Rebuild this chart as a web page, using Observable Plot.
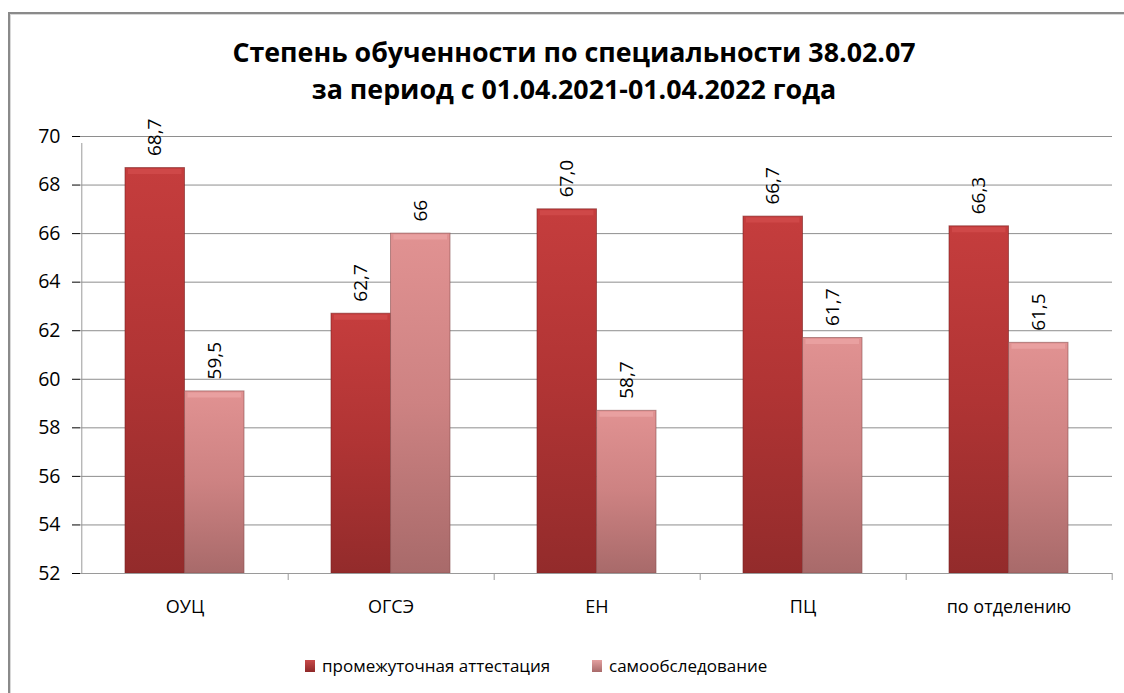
<!DOCTYPE html>
<html><head><meta charset="utf-8">
<script src="https://cdn.jsdelivr.net/npm/d3@7"></script>
<script src="https://cdn.jsdelivr.net/npm/@observablehq/plot@0.6"></script>
<style>
body{margin:0;background:#fff;font-family:"Open Sans",sans-serif;}
#wrap{position:relative;width:1124px;height:693px;overflow:hidden;background:#fff;}
#frame{position:absolute;left:8px;top:12px;width:1300px;height:900px;border:2px solid #8a8a8a;box-shadow:inset 1px 1px 0 #d8d8d8;}
#title{position:absolute;top:33px;left:0;width:1148px;text-align:center;font-weight:bold;font-size:26.8px;line-height:37px;color:#000;}
#chart{position:absolute;left:0;top:100px;}
.leg{position:absolute;top:654px;font-size:17px;color:#000;display:flex;align-items:center;white-space:nowrap;}
.sw{display:inline-block;width:10px;height:12px;margin-right:7px;}
</style></head>
<body><div id="wrap"><div id="frame"></div><div id="title"></div><div id="chart"></div></div>
<script>
const titleLines = ["Степень обученности по специальности 38.02.07", "за период с 01.04.2021-01.04.2022 года"];
const categories = ["ОУЦ", "ОГСЭ", "ЕН", "ПЦ", "по отделению"];
const seriesNames = ["промежуточная аттестация", "самообследование"];
const attestation = [68.7, 62.7, 67.0, 66.7, 66.3];
const selfExam = [59.5, 66, 58.7, 61.7, 61.5];
const attestationLabels = ["68,7", "62,7", "67,0", "66,7", "66,3"];
const selfExamLabels = ["59,5", "66", "58,7", "61,7", "61,5"];
const yTicks = [52, 54, 56, 58, 60, 62, 64, 66, 68, 70];
const yDomain = [52, 70];

document.getElementById("title").innerHTML = titleLines.join("<br>");

const rowsA = categories.map((c, i) => ({cat: c, value: attestation[i], label: attestationLabels[i]}));
const rowsB = categories.map((c, i) => ({cat: c, value: selfExam[i], label: selfExamLabels[i]}));

const W = 1124, H = 540, mL = 80, mR = 12;
const step = (W - mL - mR) / categories.length;
const pIn = 0.4234;
const half = step * (1 - pIn) / 2;

const plot = Plot.plot({
  width: W, height: H,
  marginLeft: mL, marginRight: mR, marginTop: 36, marginBottom: 67,
  style: {fontFamily: "Open Sans, sans-serif", fontSize: "18px", color: "#000", background: "transparent"},
  x: {domain: categories, paddingInner: pIn, paddingOuter: pIn / 2, align: 0.5, tickSize: 0, tickPadding: 27, label: null},
  y: {domain: yDomain, ticks: yTicks, tickSize: 8, tickPadding: 12, label: null, tickFormat: d => String(d)},
  marks: [
    Plot.ruleY(yTicks, {stroke: "#8e8e8e", strokeWidth: 1}),
    Plot.ruleX([categories[0]], {x: d => d, dx: -step / 2, y1: yDomain[0], y2: yDomain[1], insetBottom: -7, stroke: "#9a9a9a"}),
    Plot.ruleX(categories, {x: d => d, dx: step / 2, y1: yDomain[0], y2: yDomain[0], insetBottom: -7, stroke: "#9a9a9a"}),
    Plot.barY(rowsA, {x: "cat", y1: yDomain[0], y2: "value", insetRight: half, fill: "url(#gradA)", stroke: "#7c2222", strokeOpacity: 0.6}),
    Plot.barY(rowsB, {x: "cat", y1: yDomain[0], y2: "value", insetLeft: half, fill: "url(#gradB)", stroke: "#8a5050", strokeOpacity: 0.6}),
    Plot.tickY(rowsA, {x: "cat", y: "value", insetRight: half + 3, insetLeft: 3, dy: 3.5, strokeWidth: 5, stroke: "#cf4848"}),
    Plot.tickY(rowsB, {x: "cat", y: "value", insetLeft: half + 3, insetRight: 3, dy: 3.5, strokeWidth: 5, stroke: "#e9a0a0"}),
    Plot.ruleY([yDomain[0]], {stroke: "#9a9a9a", strokeWidth: 1}),
    Plot.text(rowsA, {x: "cat", y: "value", text: "label", rotate: -90, textAnchor: "start", dx: -half / 2, dy: -12, fontSize: 19}),
    Plot.text(rowsB, {x: "cat", y: "value", text: "label", rotate: -90, textAnchor: "start", dx: half / 2, dy: -12, fontSize: 19})
  ]
});

const defs = d3.select(plot).insert("defs", ":first-child");
function grad(id, stops) {
  const g = defs.append("linearGradient").attr("id", id).attr("x1", 0).attr("y1", 0).attr("x2", 0).attr("y2", 1);
  stops.forEach(([o, c]) => g.append("stop").attr("offset", o).attr("stop-color", c));
}
grad("gradA", [[0, "#c53d3d"], [0.5, "#b03434"], [1, "#932b2b"]]);
grad("gradB", [[0, "#e19292"], [0.5, "#cd8282"], [1, "#a86a6a"]]);
d3.select(plot).selectAll('g[aria-label^="x-axis"] text').style("font-size", "18px");
d3.select(plot).selectAll('g[aria-label^="y-axis"] text').style("font-size", "19.5px");
document.getElementById("chart").appendChild(plot);

const legColors = ["linear-gradient(#c84a4a,#8e2828)", "linear-gradient(#e3a0a0,#a86a6a)"];
const legLeft = [305, 592];
seriesNames.forEach((s, i) => {
  const d = document.createElement("div");
  d.className = "leg";
  d.style.left = legLeft[i] + "px";
  d.innerHTML = `<span class="sw" style="background:${legColors[i]}"></span>${s}`;
  document.getElementById("wrap").appendChild(d);
});
</script></body></html>
